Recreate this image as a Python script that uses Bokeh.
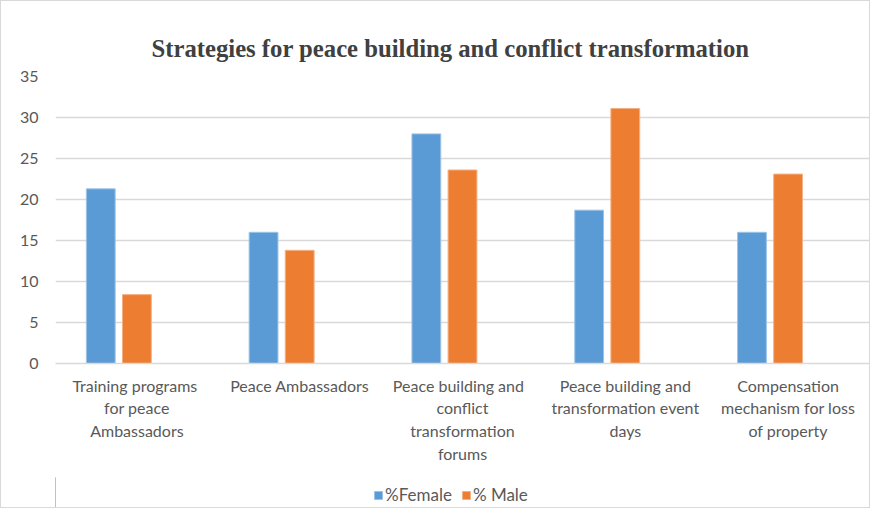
from bokeh.plotting import figure
from bokeh.layouts import column
from bokeh.models import FactorRange, ColumnDataSource, Legend, LegendItem, FixedTicker
from bokeh.transform import dodge
from bokeh.embed import file_html
from bokeh.resources import INLINE

categories = [
    "Training  programs\nfor peace\nAmbassadors",
    "Peace Ambassadors",
    "Peace  building  and\nconflict\ntransformation\nforums",
    "Peace building and\ntransformation event\ndays",
    "Compensation\nmechanism for loss\nof property",
]
female = [21.3, 16.0, 28.0, 18.7, 16.0]
male = [8.4, 13.8, 23.6, 31.1, 23.1]
series_names = ["%Female", "% Male"]
y_ticks = [0, 5, 10, 15, 20, 25, 30, 35]

FONT = "Lato"
GRAY = "#595959"
BLUE, BLUE_EDGE = "#5B9BD5", "#9DC3E6"
ORANGE, ORANGE_EDGE = "#ED7D31", "#F4B183"

src = ColumnDataSource(dict(cat=categories, female=female, male=male))

p = figure(
    frame_width=814, frame_height=287,
    x_range=FactorRange(factors=categories, range_padding=0),
    y_range=(0, 35),
    output_backend="svg", toolbar_location=None,
    min_border_left=54, min_border_right=0, min_border_top=75, min_border_bottom=114,
)

p.vbar(x=dodge("cat", -0.222, range=p.x_range), top="female", width=0.177,
       source=src, fill_color=BLUE, line_color=BLUE_EDGE, line_width=1)
p.vbar(x=dodge("cat", 0.0, range=p.x_range), top="male", width=0.177,
       source=src, fill_color=ORANGE, line_color=ORANGE_EDGE, line_width=1)

p.title.text = "Strategies for peace building and conflict transformation"
p.title.align = "left"
p.title.offset = 96
p.title.text_font = "Liberation Serif"
p.title.text_font_style = "bold"
p.title.text_font_size = "24.7px"
p.title.text_color = "#404040"
p.title.standoff = 30

p.outline_line_color = None
p.xgrid.grid_line_color = None
p.ygrid.grid_line_color = "#d9d9d9"
p.ygrid.grid_line_width = 1.5

p.yaxis.ticker = FixedTicker(ticks=y_ticks)
p.yaxis.axis_line_color = None
p.yaxis.major_tick_line_color = None
p.yaxis.minor_tick_line_color = None
p.yaxis.major_label_text_font = FONT
p.yaxis.major_label_text_font_size = "16px"
p.yaxis.major_label_text_color = GRAY
p.yaxis.major_label_standoff = 11

p.xaxis.axis_line_color = "#d9d9d9"
p.xaxis.axis_line_width = 1.5
p.xaxis.major_tick_line_color = None
p.xaxis.minor_tick_line_color = None
p.xaxis.major_tick_out = 0
p.xaxis.major_tick_in = 0
p.xaxis.major_label_text_font = FONT
p.xaxis.major_label_text_font_size = "16px"
p.xaxis.major_label_text_color = GRAY
p.xaxis.major_label_standoff = 12
p.xaxis.major_label_orientation = "horizontal"

# legend strip below the chart (legend keys sit outside the strip's visible range)
lf = figure(
    width=868, height=30, x_range=(0, 1), y_range=(0, 1),
    output_backend="svg", toolbar_location=None,
    x_axis_location=None, y_axis_location=None, min_border=0,
)
lf.outline_line_color = None
lf.xgrid.grid_line_color = None
lf.ygrid.grid_line_color = None
k1 = lf.vbar(x=[-5], top=[1], width=0.1, fill_color=BLUE, line_color=BLUE_EDGE)
k2 = lf.vbar(x=[-5], top=[1], width=0.1, fill_color=ORANGE, line_color=ORANGE_EDGE)

legend = Legend(
    items=[LegendItem(label=series_names[0], renderers=[k1]),
           LegendItem(label=series_names[1], renderers=[k2])],
    orientation="horizontal",
    label_text_font=FONT, label_text_font_size="17px", label_text_color=GRAY,
    glyph_width=10, glyph_height=10, spacing=9, label_standoff=2,
    border_line_color=None, background_fill_alpha=0, margin=0, padding=3,
    location=(318, 2),
)
lf.add_layout(legend)

layout = column(p, lf, spacing=0)
layout.styles = {"border": "1px solid #d9d9d9"}

open("out.html", "w").write(file_html(layout, INLINE))
